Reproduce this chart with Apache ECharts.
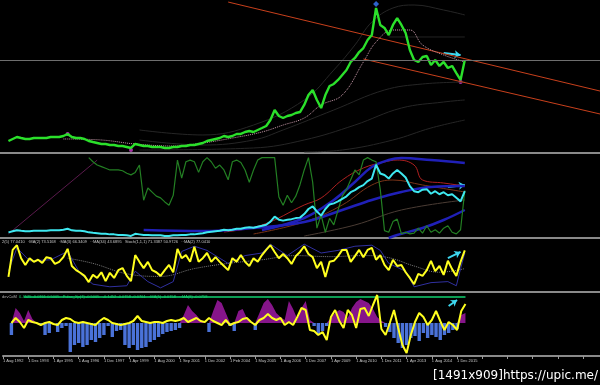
<!DOCTYPE html>
<html><head><meta charset="utf-8">
<script src="https://cdn.jsdelivr.net/npm/echarts@6/dist/echarts.min.js"></script>
<style>html,body{margin:0;padding:0;background:#000}#c{width:600px;height:385px}</style>
</head><body><div id="c"></div>
<script>
// ---- x axis tick labels (every 6th slot) ----
const tickLabels = ['1 Aug 1992','1 Dec 1993','1 Apr 1995','1 Aug 1996','1 Dec 1997','1 Apr 1999','1 Aug 2000','1 Sep 2001','1 Dec 2002','1 Feb 2004','1 May 2005','1 Aug 2006','1 Dec 2007','1 Apr 2009','1 Aug 2010','1 Dec 2011','1 Apr 2013','1 Aug 2014','1 Dec 2015'];

// ---- main price (gold, USD) ----
const price = [341,365,388,376,365,365,376,376,376,376,
 388,388,388,400,424,388,376,376,365,341,
 329,318,306,306,294,294,282,282,271,259,
 306,294,282,282,271,271,271,259,259,271,
 271,282,282,294,294,306,318,341,353,365,
 376,400,388,400,424,424,447,459,447,471,
 494,518,588,706,635,612,635,647,671,682,
 765,882,941,824,729,882,988,1012,1059,1118,
 1176,1271,1318,1388,1435,1529,1588,1906,1706,1671,
 1588,1706,1788,1706,1612,1412,1294,1271,1329,1341,
 1235,1294,1224,1271,1200,1224,1141,1059,1294];
const dottedMA = [[13,365],[22,353],[30,306],[39,282],[46,318],[53,376],[60,447],[65,529],[70,612],[74,765],[79,882],[84,1271],[87,1506],[91,1647],[95,1647],[98,1471],[103,1353],[108,1271]];
const bandU = [[31,471],[46,412],[58,529],[70,824],[77,1176],[82,1471],[86,1741],[91,1906],[96,1941],[103,1882],[108,1824]];
const bandL1 = [[31,353],[46,294],[58,353],[65,471],[77,706],[89,941],[98,1012],[108,1035]];
const bandL2 = [[31,235],[58,259],[70,353],[82,529],[93,729],[103,800],[108,824]];
const bandL3 = [[70,212],[79,235],[91,353],[100,494],[108,588]];
const bandH = [[90,1565],[108,1565]];
const channelTop = [[52,1976],[140,929]];
const channelBot = [[84,1306],[140,659]];
const bidLevel = 1294;
const peakMark = [[87,1953]];
const pinkMarks = [[14,423],[29,235],[107,1035]];
const arrow1 = [[103,1376],[107,1353]];

// ---- panel 2 ----
const osc2 = [null,null,null,null,null,null,null,null,null,null,null,null,null,null,null,null,null,null,null,
 98,93,89,87,85,83,83,83,82,79,
 77,80,89,46,61,56,51,49,44,40,
 52,95,73,93,95,93,80,93,98,93,
 85,89,83,71,93,95,92,83,68,83,
 95,98,98,98,98,50,40,52,43,51,
 65,83,98,68,12,28,7,24,16,34,
 51,59,71,83,77,95,98,95,93,59,
 9,7,20,23,5,7,5,6,12,6,
 15,7,10,6,12,15,7,5,10,58];
const diag2 = [[0,5],[21,95]];
const blueA = [[60,395],[70,673],[77,1091],[82,1508],[86,1855],[90,2017],[93,2064],[100,2017],[108,1948]];
const blueB = [[32,395],[46,372],[58,442],[70,581],[79,859],[86,1091],[93,1276],[100,1392],[108,1415]];
const blueC = [[90,210],[92,280],[98,442],[103,627],[108,859]];
const red1 = [[51,349],[60,511],[70,975],[74,1137],[79,1554],[84,1832],[89,1971],[92,2017],[96,1901],[98,1554],[103,1484],[108,1415]];
const red2 = [[58,303],[70,581],[79,975],[86,1438],[91,1554],[98,1438],[108,1276]];
const gray2 = [[70,256],[82,511],[93,859],[108,1091]];
const arrow2 = [[104,1392],[108,1438]];

// ---- panel 3 ----
const yellow3 = [29,81,90,65,52,65,58,62,56,67,
 65,54,58,67,83,50,42,37,31,19,
 33,27,38,21,37,27,42,46,31,21,
 71,58,46,58,42,38,31,42,52,38,
 83,65,71,58,87,58,65,75,58,67,
 58,50,42,65,58,71,58,50,65,58,
 71,81,90,77,65,73,65,54,69,77,
 88,73,67,46,58,29,58,60,69,81,
 81,58,69,81,67,81,85,62,71,52,
 42,62,50,52,38,27,15,35,31,42,
 60,40,50,33,60,44,31,58,80];
const blue3 = [[0,40],[2,85],[5,60],[10,62],[14,78],[17,35],[20,15],[24,10],[28,12],[30,40],[33,20],[36,8],[39,20],[41,78],[44,88],[47,80],[52,55],[56,70],[60,75],[62,92],[66,70],[70,92],[74,75],[78,80],[82,88],[86,90],[88,80],[90,55],[94,40],[96,10],[100,18],[104,20],[106,12],[107,45],[108,75]];
const ma3 = [[14,65],[20,55],[28,35],[36,30],[44,45],[52,55],[60,62],[68,70],[76,68],[84,70],[90,66],[96,50],[102,38],[108,45]];
const arrow3 = [[104,65],[107,77]];

// ---- panel 4 ----
const hist4 = [-12,15,10,2,13,4,0,-2,-12,-10,
 0,-9,-5,-3,-29,-22,-20,-24,-22,-17,
 -19,-15,-12,-3,-14,-8,-7,-22,-25,-22,
 -27,-25,-24,-19,-17,-14,-11,-9,-8,-7,
 -5,8,18,12,8,3,0,-9,12,23,
 20,10,-3,-8,12,14,5,0,-7,10,
 20,24,18,10,6,3,22,14,4,15,
 22,3,-3,-12,-8,-3,5,10,13,11,
 5,15,21,24,22,20,14,6,2,-4,
 -9,-15,-20,-25,-22,-15,-13,-18,-10,-15,
 -12,-14,-17,-12,-10,-7,-6,8,10];
const yellow4 = [0,5,1,-5,3,1,0,-2,0,1,
 -1,-2,3,5,4,1,0,1,0,-1,
 -2,2,5,3,0,-1,-2,-1,0,2,
 7,2,1,0,1,1,0,2,3,2,
 3,5,1,3,5,2,1,5,2,0,
 -2,3,-2,0,1,4,5,1,-2,3,
 5,9,5,3,5,-2,1,-2,6,15,
 13,-7,-8,-12,-9,-17,6,13,2,-5,
 13,8,-5,14,15,7,18,28,-6,-12,
 0,13,-5,-22,-30,-12,1,10,6,-2,
 3,12,2,-7,1,-2,-7,12,19];
const level4 = [[3,26],[108,26]];
const arrow4 = [[104,17],[106,23]];

// ---- build ----
const LEAD = 2, SLOTS = 143;
const cats = Array.from({length: SLOTS}, (_, j) => 'b' + j);
const seq = arr => arr.map((v, i) => v == null ? null : [i + LEAD, v]).filter(p => p);
const pts = arr => arr.map(([i, v]) => [i + LEAD, v]);
const isTick = j => j % 6 === 0;
const grids = [
  {left: -3.6, right: 0, top: 0, height: 153},
  {left: -3.6, right: 0, top: 156, height: 82},
  {left: -3.6, right: 0, top: 240, height: 52},
  {left: -3.6, right: 0, top: 294, height: 62}
];
const FONT = 'Liberation Sans';
const xAxes = grids.map((g, k) => ({
  type: 'category', gridIndex: k, data: cats, boundaryGap: false,
  axisLine: {show: true, onZero: false, lineStyle: {color: '#8a8a8a', width: 2}},
  axisTick: {show: k === 3, interval: (j) => isTick(j), length: 3, lineStyle: {color: '#9a9a9a'}},
  axisLabel: {show: k === 3, interval: (j) => isTick(j), formatter: (v, j) => tickLabels[j / 6] || '',
    color: '#c8c8c8', fontSize: 4, align: 'left', margin: 3, fontFamily: FONT},
  splitLine: {show: false}
}));
const yAxes = [
  {gridIndex: 0, min: 200, max: 2000},
  {gridIndex: 1, min: 210, max: 2110},
  {gridIndex: 1, min: 0, max: 100},
  {gridIndex: 2, min: 0, max: 100},
  {gridIndex: 3, min: -33, max: 29}
].map(a => Object.assign({type: 'value', show: false, splitLine: {show: false}}, a));

function line(xi, yi, data, color, width, extra) {
  return Object.assign({type: 'line', xAxisIndex: xi, yAxisIndex: yi, data: data, symbol: 'none',
    lineStyle: {color: color, width: width}, silent: true}, extra || {});
}
function arrow(xi, yi, p) {
  return {type: 'lines', coordinateSystem: 'cartesian2d', xAxisIndex: xi, yAxisIndex: yi,
    symbol: ['none', 'arrow'], symbolSize: 6, silent: true,
    lineStyle: {color: '#3ed8f0', width: 2, opacity: 1},
    data: [{coords: pts(p)}]};
}
const faint = '#262626';
const series = [
  // panel 1
  line(0, 0, pts(bandU), faint, 1, {smooth: 0.4}),
  line(0, 0, pts(bandL1), faint, 1, {smooth: 0.4}),
  line(0, 0, pts(bandL2), faint, 1, {smooth: 0.4}),
  line(0, 0, pts(bandL3), faint, 1, {smooth: 0.4}),
  line(0, 0, pts(bandH), '#222', 1),
  line(0, 0, pts(channelTop), '#c8401c', 1),
  line(0, 0, pts(channelBot), '#c8401c', 1),
  line(0, 0, pts(dottedMA), '#d8a8b8', 1, {smooth: 0.4, lineStyle: {color: '#c89aaa', width: 1, type: 'dotted'}}),
  line(0, 0, seq(price), '#2be02b', 2.4, {
    markLine: {silent: true, symbol: 'none', label: {show: false},
      lineStyle: {color: '#6e6e6e', width: 1, type: 'solid'}, data: [{yAxis: bidLevel}]}
  }),
  {type: 'scatter', xAxisIndex: 0, yAxisIndex: 0, data: pts(peakMark), symbol: 'diamond', symbolSize: 6,
    itemStyle: {color: '#3a7cff'}, silent: true},
  {type: 'scatter', xAxisIndex: 0, yAxisIndex: 0, data: pts(pinkMarks), symbolSize: 4,
    itemStyle: {color: '#d23cd2'}, silent: true},
  arrow(0, 0, arrow1),
  // panel 2
  line(1, 1, pts(gray2), '#4a3c34', 1, {smooth: 0.4}),
  line(1, 2, pts(diag2), '#5a1a4c', 1),
  line(1, 1, pts(red2), '#7a3418', 1, {smooth: 0.4}),
  line(1, 1, pts(red1), '#b02020', 1, {smooth: 0.4}),
  line(1, 1, pts(blueC), '#2020b8', 2.5, {smooth: 0.4}),
  line(1, 1, pts(blueB), '#2020b8', 2.5, {smooth: 0.4}),
  line(1, 1, pts(blueA), '#2020b8', 2.5, {smooth: 0.4}),
  line(1, 2, seq(osc2), '#237f23', 1.2),
  line(1, 1, seq(price), '#3ee8f0', 2),
  arrow(1, 1, arrow2),
  // panel 3
  line(2, 3, pts(ma3), '#808080', 1, {smooth: 0.4, lineStyle: {color: '#7a7a7a', width: 1, type: 'dotted'}}),
  line(2, 3, pts(blue3), '#3030a0', 1),
  line(2, 3, seq(yellow3), '#ffff1e', 2),
  arrow(2, 3, arrow3),
  // panel 4
  line(3, 4, seq(hist4.map(v => v > 0 ? v : 0)), '#86158a', 1, {
    lineStyle: {width: 1, color: '#86158a', opacity: 0}, areaStyle: {color: '#86158a', opacity: 1, origin: 0}}),
  {type: 'bar', xAxisIndex: 3, yAxisIndex: 4, data: seq(hist4.map(v => v < 0 ? v : 0)),
    barWidth: 3.4, itemStyle: {color: '#4a72d8'}, silent: true},
  line(3, 4, pts(level4), '#10d070', 1.5),
  line(3, 4, seq(yellow4), '#ffff1e', 2),
  arrow(3, 4, arrow4)
];

const chart = echarts.init(document.getElementById('c'), null, {renderer: 'canvas'});
chart.setOption({
  backgroundColor: '#000',
  animation: false,
  grid: grids,
  xAxis: xAxes,
  yAxis: yAxes,
  series: series,
  graphic: [
    {type: 'text', left: 2, top: 240, silent: true,
      style: {text: '2(5) 77.0410   ·MA(2) 73.5168   ·MA(3) 66.3409   ··MA(34) 43.6895   Stoch(1,1,1) 71.3387 50.9726   ··MA(2) 77.0410',
        fill: '#c4c4c4', fontSize: 4, fontFamily: FONT}},
    {type: 'text', left: 2, top: 295, silent: true,
      style: {text: '{a|devCoM}  {b|0.4525 -0.0761 0.5005   Pulse_Xp(7) -0.5005   -0.1452 -0.0758 -0.0761   ·MA(5) -0.0758   ··MA(8) -0.0758}',
        fontSize: 4, fontFamily: FONT,
        rich: {a: {fill: '#b0b0b0', fontSize: 4, fontFamily: FONT}, b: {fill: '#20d070', fontSize: 4, fontFamily: FONT}}}},
    {type: 'text', right: 2, bottom: 3, silent: true,
      style: {text: '[1491x909]https://upic.me/', fill: '#ffffff', fontSize: 12, fontFamily: 'DejaVu Sans'}}
  ]
});
</script>
</body></html>
